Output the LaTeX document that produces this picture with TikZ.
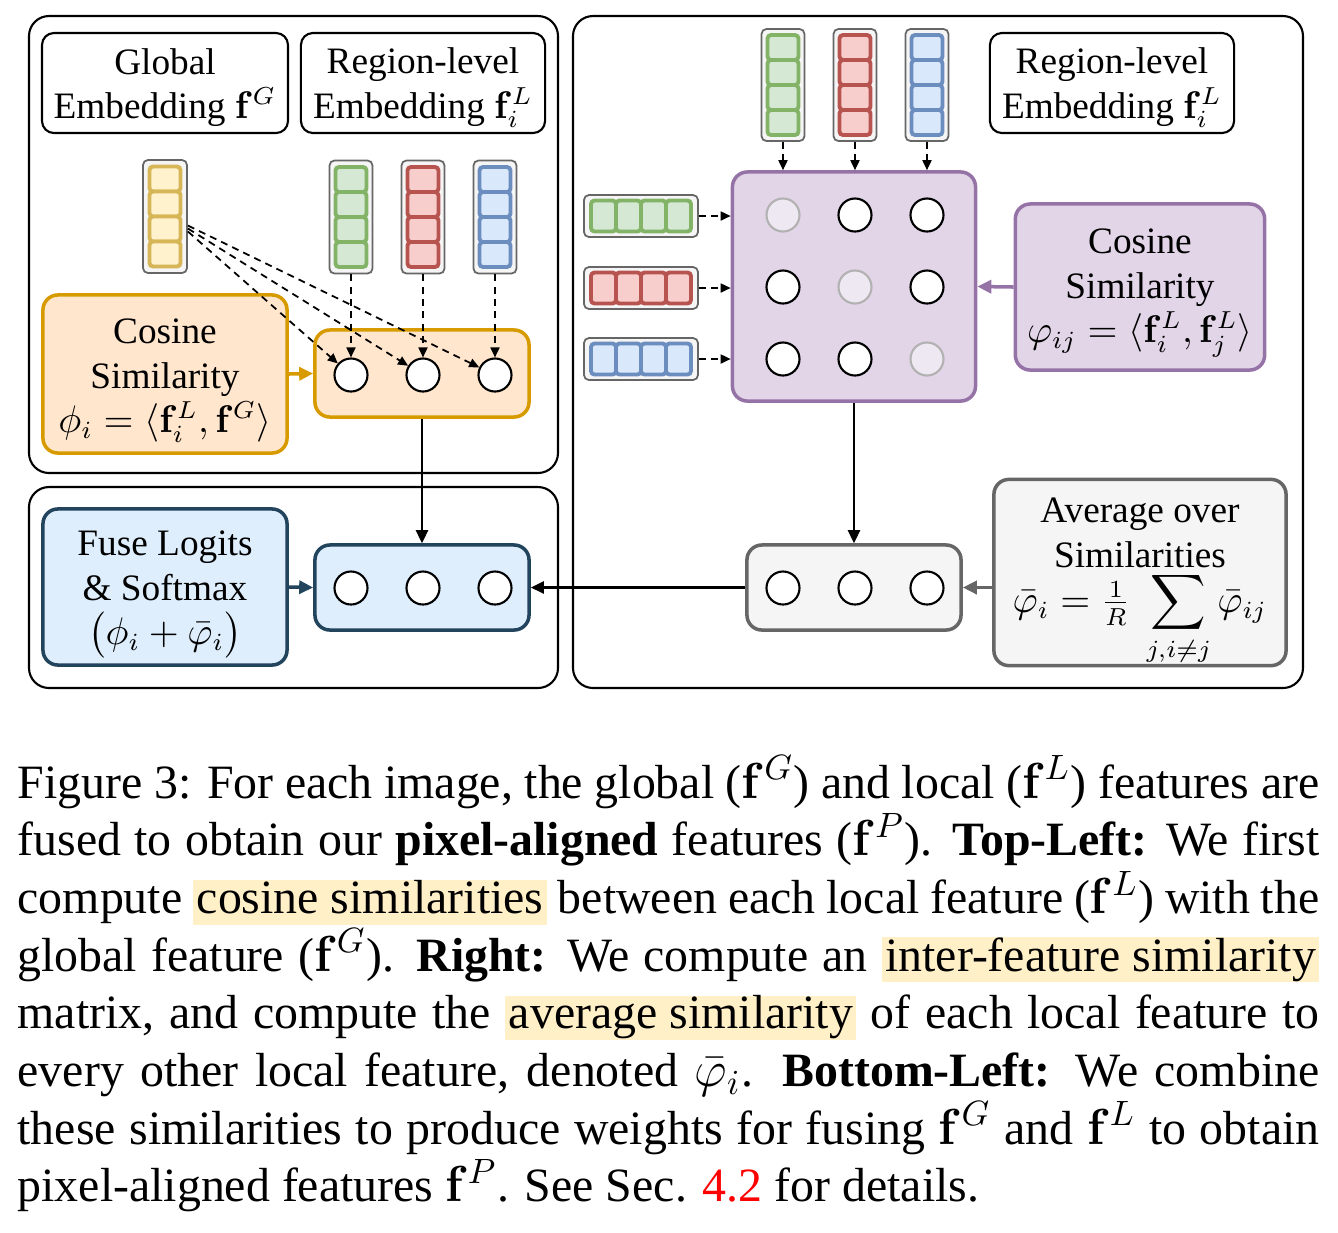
\documentclass[tikz,border=0pt]{standalone}
\usepackage[no-math]{fontspec}
\setmainfont{Liberation Serif}
\usepackage{amsmath}
\usetikzlibrary{arrows.meta}

\definecolor{oranfill}{HTML}{FFE6CC}
\definecolor{orandraw}{HTML}{D79B00}
\definecolor{purpfill}{HTML}{E1D5E7}
\definecolor{purpdraw}{HTML}{9673A6}
\definecolor{fusefill}{HTML}{DEEEFC}
\definecolor{navy}{HTML}{23445D}
\definecolor{greyfill}{HTML}{F5F5F5}
\definecolor{greydraw}{HTML}{666666}
\definecolor{liney}{HTML}{D6B656}
\definecolor{filly}{HTML}{FFF2CC}
\definecolor{lineg}{HTML}{82B366}
\definecolor{fillg}{HTML}{D5E8D4}
\definecolor{liner}{HTML}{B85450}
\definecolor{fillr}{HTML}{F8CECC}
\definecolor{lineb}{HTML}{6C8EBF}
\definecolor{fillb}{HTML}{DAE8FC}
\definecolor{hlyellow}{HTML}{FFF0C8}

\newcommand{\hlbox}[1]{{\setlength{\fboxsep}{0pt}\colorbox{hlyellow}{\rule[-3.2pt]{0pt}{12pt}\kern1pt #1\kern1pt}}}
\newcommand{\topgap}[1]{\rule{0pt}{#1}}

\tikzset{
	panel/.style = {draw, rounded corners = 0.2cm, line width = 0.6pt},
	title/.style = {draw, rounded corners = 0.12cm, line width = 0.6pt, align = center, inner ysep = 0,
		minimum width = 2.44cm, minimum height = 1cm},
	box/.style = {rounded corners = 0.15cm, line width = 1pt, align = center, inner ysep = 0},
	dot/.style = {circle, draw, fill = white, line width = 0.6pt, minimum size = 0.33cm, inner sep = 0},
	faded/.style = {dot, draw = black!30, fill = purpfill!55!white},
	vframe/.style = {draw = greydraw, fill = greyfill, rounded corners = 0.05cm, line width = 0.5pt, inner sep = 0},
	vcell/.style = {rounded corners = 1pt, line width = 1.1pt, inner sep = 0},
	dasharrow/.style = {-{Triangle[length = 0.1cm, width = 0.09cm]}, line width = 0.5pt,
		dash pattern = on 2pt off 1.5pt},
	bigarrow/.style = {-{Triangle[length = 0.13cm, width = 0.12cm]}, line width = 0.7pt},
	colarrow/.style = {-{Triangle[length = 0.14cm, width = 0.13cm]}, line width = 1pt}
}

\begin{document}
\begin{tikzpicture}[x = 0.01cm, y = -0.01cm, font = \fontsize{10.6}{12.7}\selectfont]

	\useasboundingbox (0, 0) rectangle (1338, 1232);

	% Panels

	\draw [panel] (29, 16) rectangle (558, 473);
	\draw [panel] (29, 487) rectangle (558, 688);
	\draw [panel] (573, 16) rectangle (1303, 688);

	% Titles

	\node [title] (tG) at (165, 83) {\topgap{10pt}Global\\Embedding $\mathbf{f}^G$};
	\node [title] (tL) at (423, 83) {\topgap{10pt}Region-level\\Embedding $\mathbf{f}_i^L$};
	\node [title] (tR) at (1112, 83) {\topgap{10pt}Region-level\\Embedding $\mathbf{f}_i^L$};

	% Top-left: global and local vectors

	\node [vframe, minimum width = 0.44cm, minimum height = 1.13cm] (vy) at (165, 216.5) {};
	\foreach \k in {0, ..., 3}
		\node [vcell, draw = liney, fill = filly, minimum width = 0.31cm, minimum height = 0.25cm] at (165, 179 + 25 * \k) {};

	\foreach \cx/\c in {351/g, 423/r, 495/b} {
		\node [vframe, minimum width = 0.43cm, minimum height = 1.13cm] (v\c) at (\cx, 217) {};
		\foreach \k in {0, ..., 3}
			\node [vcell, draw = line\c, fill = fill\c, minimum width = 0.31cm, minimum height = 0.25cm] at (\cx, 179.5 + 25 * \k) {};
	}

	% Top-left: cosine similarity

	\node [box, draw = orandraw, fill = oranfill, minimum width = 2.44cm, minimum height = 1.58cm] (cosL) at (165, 374)
		{\topgap{10.7pt}Cosine\\Similarity\\$\phi_i = \langle \mathbf{f}_i^L , \mathbf{f}^G \rangle$};
	\node [box, draw = orandraw, fill = oranfill, minimum width = 2.14cm, minimum height = 0.87cm] (oBox) at (422, 373.5) {};
	\foreach \i/\cx in {1/351, 2/423, 3/495}
		\node [dot] (o\i) at (\cx, 375) {};

	\foreach \i/\dy in {1/-0.15, 2/-0.12, 3/-0.09}
		\draw [dasharrow] ([yshift = \dy cm]vy.east) -- (o\i);
	\draw [dasharrow] (vg.south) -- (o1);
	\draw [dasharrow] (vr.south) -- (o2);
	\draw [dasharrow] (vb.south) -- (o3);

	\draw [colarrow, orandraw] (cosL.east) -- (oBox.west);

	% Bottom-left: fusion

	\node [box, draw = navy, fill = fusefill, minimum width = 2.44cm, minimum height = 1.56cm] (fuse) at (165, 587)
		{\topgap{11.3pt}Fuse Logits\\\& Softmax\\$\big(\phi_i + \bar{\varphi}_i\big)$};
	\node [box, draw = navy, fill = fusefill, minimum width = 2.14cm, minimum height = 0.85cm] (fBox) at (422, 587.5) {};
	\foreach \i/\cx in {1/351, 2/423, 3/495}
		\node [dot] (f\i) at (\cx, 588) {};

	\draw [colarrow, navy] (fuse.east) -- (fBox.west);
	\draw [bigarrow] (oBox) -- (fBox);

	% Right: similarity matrix

	\node [box, draw = purpdraw, fill = purpfill, minimum width = 2.43cm, minimum height = 2.29cm] (mat) at (854, 286.5) {};

	\foreach \cx/\c in {783/g, 855/r, 927/b} {
		\node [vframe, minimum width = 0.43cm, minimum height = 1.12cm] (t\c) at (\cx, 85) {};
		\foreach \k in {0, ..., 3}
			\node [vcell, draw = line\c, fill = fill\c, minimum width = 0.31cm, minimum height = 0.25cm] at (\cx, 47.5 + 25 * \k) {};
		\draw [dasharrow] (t\c.south) -- (t\c.south |- mat.north);
	}

	\foreach \cy/\c in {216/g, 288/r, 359/b} {
		\node [vframe, minimum width = 1.14cm, minimum height = 0.42cm] (h\c) at (641, \cy) {};
		\foreach \k in {0, ..., 3}
			\node [vcell, draw = line\c, fill = fill\c, minimum width = 0.25cm, minimum height = 0.31cm] at (603.5 + 25 * \k, \cy) {};
		\draw [dasharrow] (h\c.east) -- (h\c.east -| mat.west);
	}

	\foreach \r/\cy in {1/215, 2/287, 3/359}
		\foreach \c/\cx in {1/783, 2/855, 3/927} {
			\ifnum\r=\c
				\node [faded] (m\r\c) at (\cx, \cy) {};
			\else
				\node [dot] (m\r\c) at (\cx, \cy) {};
			\fi
		}

	\node [box, draw = purpdraw, fill = purpfill, minimum width = 2.44cm, minimum height = 1.66cm] (cosR) at (1140, 287)
		{\topgap{10.4pt}Cosine\\Similarity\\$\varphi_{ij} = \langle \mathbf{f}_i^L , \mathbf{f}_j^L \rangle$};
	\draw [colarrow, purpdraw] (cosR.west) -- (mat.east);

	% Right: average

	\node [box, draw = greydraw, fill = greyfill, minimum width = 2.14cm, minimum height = 0.85cm] (gBox) at (854, 587.5) {};
	\foreach \i/\cx in {1/783, 2/855, 3/927}
		\node [dot] (g\i) at (\cx, 588) {};

	\node [box, draw = greydraw, fill = greyfill, minimum width = 2.92cm, minimum height = 1.85cm] (avg) at (1140, 572.5)
		{\topgap{12.4pt}Average over\\Similarities\\$\bar{\varphi}_i = \tfrac{1}{R}\ \displaystyle\sum_{j,i\neq j} \bar{\varphi}_{ij}$};

	\draw [colarrow, greydraw] (avg.west |- gBox) -- (gBox.east);
	\draw [bigarrow] (mat) -- (gBox);
	\draw [bigarrow] (gBox.west) -- (fBox.east);

	% Caption

	\node [anchor = north west, inner sep = 0, text width = 13.01cm, align = justify,
		font = \fontsize{13.6}{16.4}\selectfont] (cap) at (17, 755)
		{Figure 3: For each image, the global ($\mathbf{f}^G$) and local ($\mathbf{f}^L$) features are\linebreak
		fused to obtain our \textbf{pixel-aligned} features ($\mathbf{f}^P$). \textbf{Top-Left:} We first\linebreak
		compute \hlbox{cosine similarities} between each local feature ($\mathbf{f}^L$) with the\linebreak
		global feature ($\mathbf{f}^G$). \textbf{Right:} We compute an \hlbox{inter-feature similarity}\linebreak
		matrix, and compute the \hlbox{average similarity} of each local feature to\linebreak
		every other local feature, denoted $\bar{\varphi}_i$. \textbf{Bottom-Left:} We combine\linebreak
		these similarities to produce weights for fusing $\mathbf{f}^G$ and $\mathbf{f}^L$ to obtain\linebreak
		pixel-aligned features $\mathbf{f}^P$. See Sec. \textcolor{red}{4.2} for details.};

\end{tikzpicture}
\end{document}
